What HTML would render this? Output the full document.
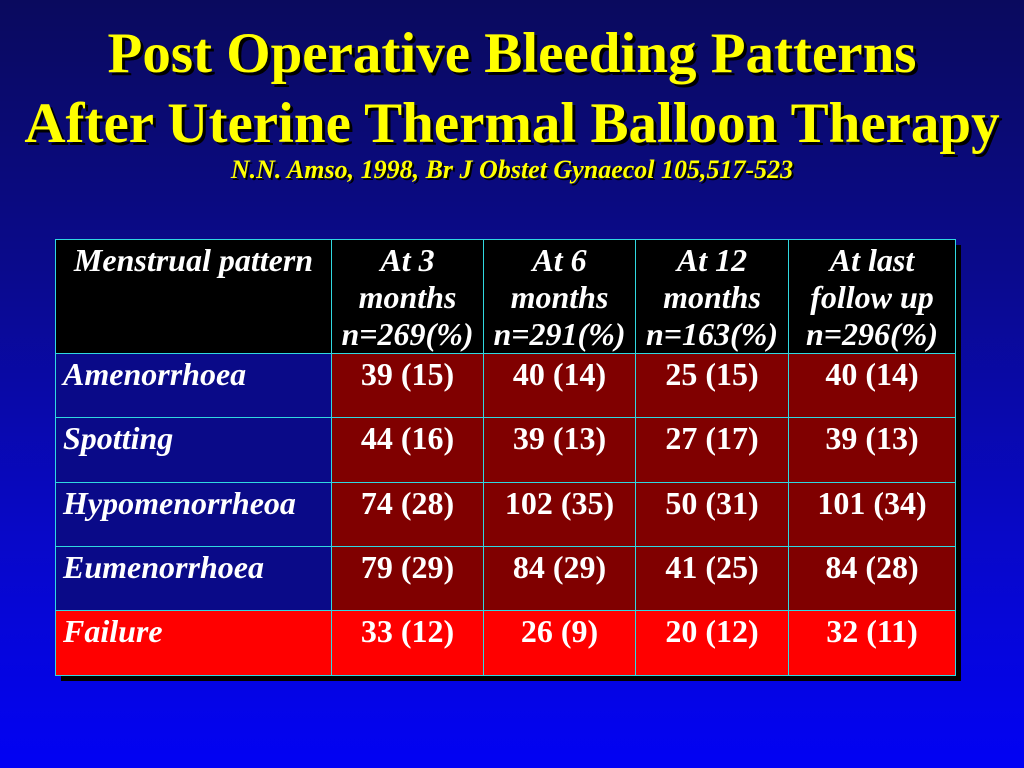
<!DOCTYPE html>
<html><head><meta charset="utf-8"><style>
body{margin:0;width:1024px;height:768px;overflow:hidden;background:linear-gradient(180deg,#0a0a5e 0%,#0a0a8c 35%,#0808c8 70%,#0202f4 100%);font-family:"Liberation Serif","Times New Roman",serif;position:relative}
.t{position:absolute;left:0;width:1024px;text-align:center;color:#ffff00;font-weight:bold;font-size:57px;text-shadow:3px 3px 0 #000;line-height:1;white-space:nowrap}
.sub{position:absolute;left:0;width:1024px;text-align:center;color:#ffff00;font-weight:bold;font-style:italic;font-size:26px;line-height:30px;text-shadow:2px 2px 0 #000}
.shadow{position:absolute;left:61px;top:245px;width:900px;height:436px;background:#000}
.c{position:absolute;box-sizing:border-box;border:1.5px solid #30d8e0;color:#fff;font-weight:bold;font-size:32px;text-align:center;line-height:37px;padding-top:2px;white-space:nowrap}
.h{background:#000;font-style:italic}
.l{background:#0a0a88;font-style:italic;text-align:left;padding-left:7px}
.v{background:#800000}
.f{background:#ff0000}
</style></head><body>
<div class="t" style="top:25px">Post Operative Bleeding Patterns</div>
<div class="t" style="top:95px">After Uterine Thermal Balloon Therapy</div>
<div class="sub" style="top:155px">N.N. Amso, 1998, Br J Obstet Gynaecol 105,517-523</div>
<div class="shadow"></div>
<div id="tbl"></div>
<script>
const cols=[55,331,483,635,788,955];
const rowsY=[239,353,417,482,546,610,675];
const headers=["Menstrual pattern","At 3<br>months<br>n=269(%)","At 6<br>months<br>n=291(%)","At 12<br>months<br>n=163(%)","At last<br>follow up<br>n=296(%)"];
const labels=["Amenorrhoea","Spotting","Hypomenorrheoa","Eumenorrhoea","Failure"];
const values=[["39 (15)","40 (14)","25 (15)","40 (14)"],["44 (16)","39 (13)","27 (17)","39 (13)"],["74 (28)","102 (35)","50 (31)","101 (34)"],["79 (29)","84 (29)","41 (25)","84 (28)"],["33 (12)","26 (9)","20 (12)","32 (11)"]];
const t=document.getElementById('tbl');
function cell(cls,x0,x1,y0,y1,html,name){
 const d=document.createElement('div');
 d.className='c '+cls;
 d.style.left=x0+'px';d.style.top=y0+'px';d.style.width=(x1-x0+1)+'px';d.style.height=(y1-y0+1)+'px';
 d.innerHTML=html;
 
 
 t.appendChild(d);
}
headers.forEach((h,i)=>cell('h',cols[i],cols[i+1],rowsY[0],rowsY[1],h,'header-cell'));
labels.forEach((lab,r)=>{
 const fail=r===4;
 cell(fail?'f l':'l',cols[0],cols[1],rowsY[r+1],rowsY[r+2],lab,'row-label');
 if(fail){t.lastChild.style.background='#ff0000';}
 values[r].forEach((v,c)=>cell(fail?'f':'v',cols[c+1],cols[c+2],rowsY[r+1],rowsY[r+2],v,'value-cell'));
});
</script>
</body></html>
